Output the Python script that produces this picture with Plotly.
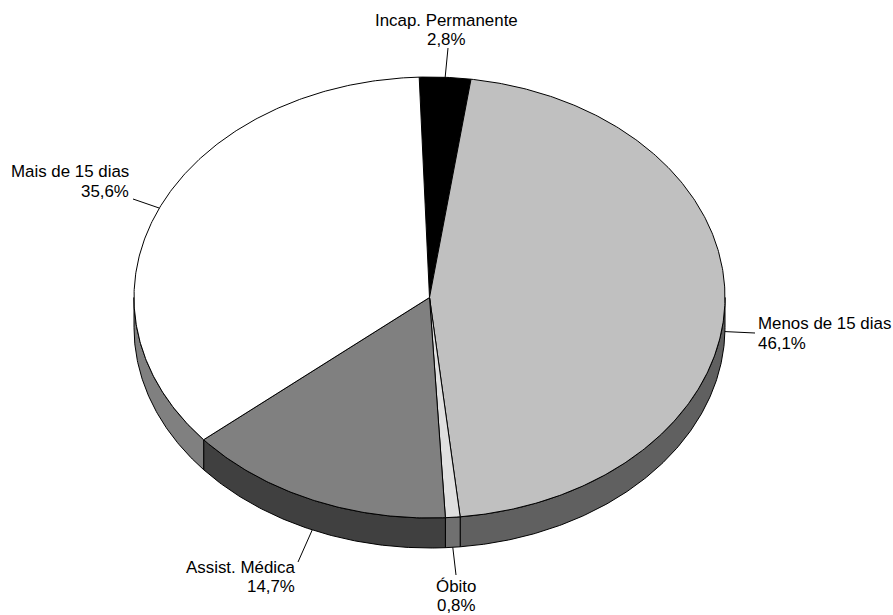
import numpy as np
import plotly.graph_objects as go

# ---- data ----
categories = ["Incap. Permanente", "Menos de 15 dias", "Óbito", "Assist. Médica", "Mais de 15 dias"]
values = [2.8, 46.1, 0.8, 14.7, 35.6]
top_colors = ["#000000", "#C0C0C0", "#E0E0E0", "#808080", "#FFFFFF"]
side_colors = ["#000000", "#606060", "#707070", "#404040", "#808080"]

# ---- geometry of the 3D pie (pixel-like axis units) ----
W, H = 893, 615
cx, cy, rx, ry, depth = 429.5, 297.5, 295.5, 220.5, 30.0
start_angle = -2.0  # degrees, clockwise from 12 o'clock

# label placement
label_cfg = {
    "Incap. Permanente": dict(x=446, y1=20, y2=39, anchor="center", lx=448, ly=48),
    "Menos de 15 dias": dict(x=756, y1=323, y2=343, anchor="left", lx=755, ly=333),
    "Óbito": dict(x=456, y1=586, y2=605, anchor="center", lx=456, ly=575),
    "Assist. Médica": dict(x=297, y1=567, y2=586, anchor="right", lx=298, ly=562),
    "Mais de 15 dias": dict(x=131, y1=171, y2=191, anchor="right", lx=133, ly=199),
}


def ell(t_deg, dy=0.0):
    r = np.radians(t_deg)
    return cx + rx * np.sin(r), cy - ry * np.cos(r) + dy


total = sum(values)
angles = []
cum = start_angle
for v in values:
    a1 = cum + v / total * 360.0
    angles.append((cum, a1))
    cum = a1

fig = go.Figure()

# side walls (front half only)
for (a0, a1), col in zip(angles, side_colors):
    lo, hi = max(a0, 90.0), min(a1, 270.0)
    if hi <= lo:
        continue
    t = np.linspace(lo, hi, max(3, int((hi - lo) * 2)))
    xt, yt = ell(t)
    xb, yb = ell(t[::-1], depth)
    xs = np.concatenate([xt, xb, xt[:1]])
    ys = np.concatenate([yt, yb, yt[:1]])
    fig.add_trace(go.Scatter(x=xs, y=ys, mode="lines", fill="toself", fillcolor=col,
                             line=dict(color="black", width=1), hoverinfo="skip",
                             showlegend=False))

# top faces
for (a0, a1), col in zip(angles, top_colors):
    t = np.linspace(a0, a1, max(3, int((a1 - a0) * 2)))
    xt, yt = ell(t)
    xs = np.concatenate([[cx], xt, [cx]])
    ys = np.concatenate([[cy], yt, [cy]])
    fig.add_trace(go.Scatter(x=xs, y=ys, mode="lines", fill="toself", fillcolor=col,
                             line=dict(color="black", width=1), hoverinfo="skip",
                             showlegend=False))

# labels and leader lines
font = dict(family="Liberation Sans, Arial, sans-serif", size=16.9, color="black")
shapes = []
annotations = []
for cat, v, (a0, a1) in zip(categories, values, angles):
    cfg = label_cfg[cat]
    mid = (a0 + a1) / 2.0
    front = np.cos(np.radians(mid)) < 0
    px, py = ell(mid, depth if front else 0.0)
    shapes.append(dict(type="line", x0=float(px), y0=float(py), x1=cfg["lx"], y1=cfg["ly"],
                       xref="x", yref="y", line=dict(color="black", width=1)))
    pct = f"{v:.1f}%".replace(".", ",")
    for txt, yy in ((cat, cfg["y1"]), (pct, cfg["y2"])):
        annotations.append(dict(x=cfg["x"], y=yy, xref="x", yref="y", text=txt,
                                showarrow=False, xanchor=cfg["anchor"], yanchor="middle",
                                font=font))

fig.update_layout(
    width=W, height=H,
    margin=dict(l=0, r=0, t=0, b=0),
    paper_bgcolor="white", plot_bgcolor="white",
    xaxis=dict(range=[0, W], visible=False, fixedrange=True),
    yaxis=dict(range=[H, 0], visible=False, fixedrange=True),
    shapes=shapes, annotations=annotations,
    showlegend=False,
)

fig.write_html("out.html", config={"displayModeBar": False},
               post_script="document.body.style.margin='0';document.body.style.overflow='hidden';")
